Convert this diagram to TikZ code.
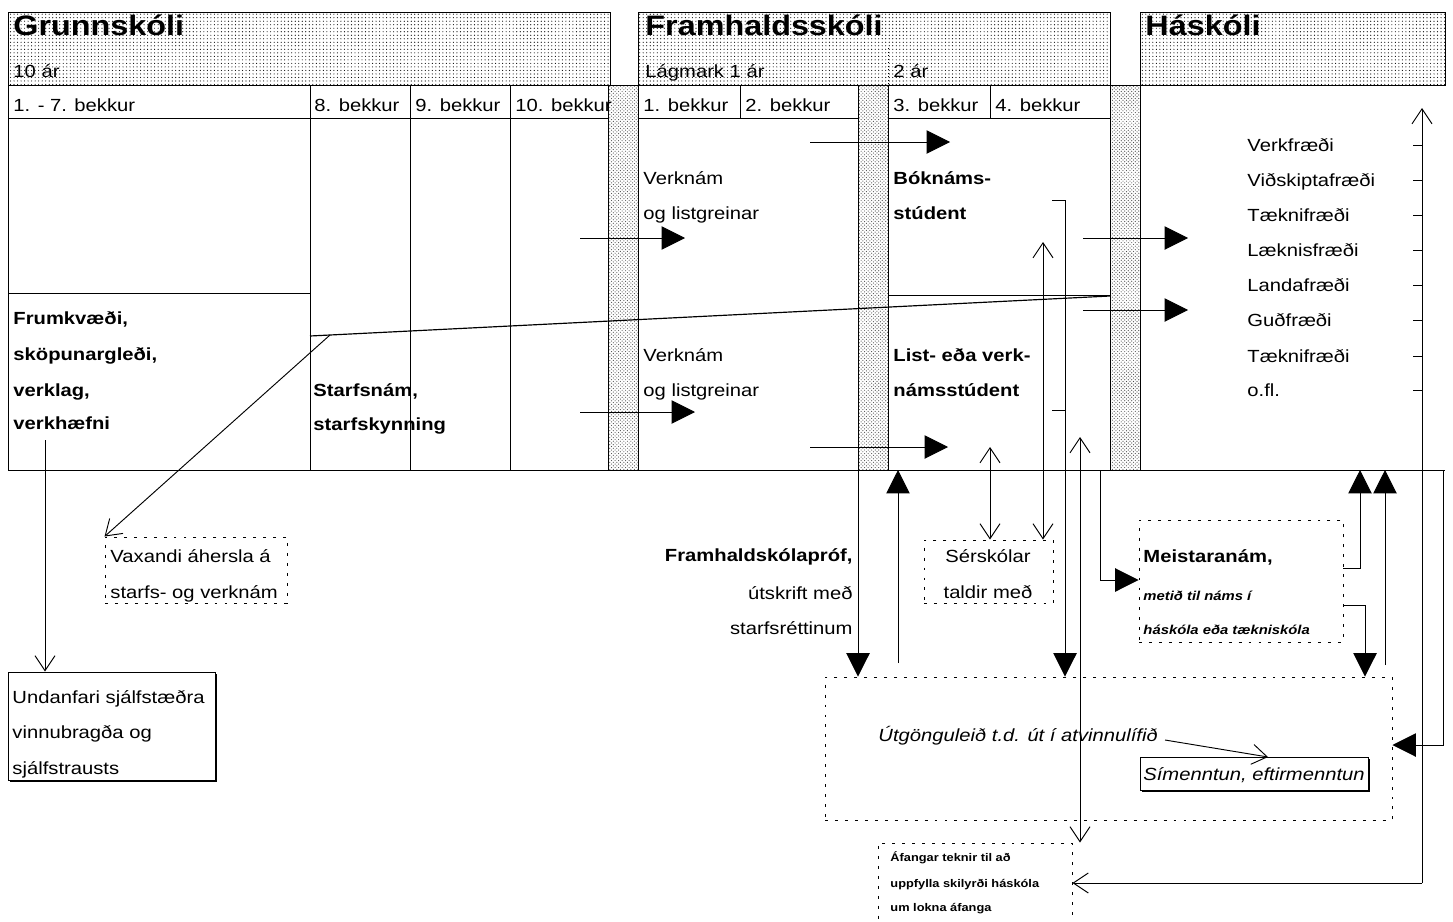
\documentclass[tikz,border=0pt]{standalone}
\usepackage{fontspec}
\setmainfont{Liberation Sans}[FakeStretch=1.15]
\usetikzlibrary{arrows.meta,patterns,shadows,fit}

\tikzset{
  hdr/.style={draw,pattern=dots,pattern color=black},
  strip/.style={draw,pattern=crosshatch dots,pattern color=black!70},
  txt/.style={anchor=base west,inner sep=0pt,font=\fontsize{15}{18}\selectfont},
  btxt/.style={txt,font=\fontsize{15}{18}\selectfont\bfseries},
  htxt/.style={txt,font=\fontsize{24}{28}\selectfont\bfseries},
  stxt/.style={txt,font=\fontsize{9.5}{11}\selectfont\bfseries},
  dotbox/.style={draw,dash pattern=on 2.5pt off 6pt,inner sep=0pt},
  shadbox/.style={draw,fill=white,inner sep=0pt,
    drop shadow={shadow xshift=2pt,shadow yshift=-2pt,fill=black,opacity=1}},
  fillarr/.style={-{Triangle[length=7mm,width=7mm]}},
  openarr/.style={-{Straight Barb[length=4.5mm,width=6mm]}},
  twoarr/.style={{Straight Barb[length=4.5mm,width=6mm]}-{Straight Barb[length=4.5mm,width=6mm]}},
}

\begin{document}
\begin{tikzpicture}[x=0.03cm,y=-0.03cm,line width=0.8pt]
  \useasboundingbox (0,0) rectangle (1453,921);
  \def\yhead{85}
  \def\yrow{118}
  \def\ybot{470}
  % header bands
  \draw[hdr] (8,12) rectangle (610,\yhead);
  \draw[hdr] (638,12) rectangle (1110,\yhead);
  \draw[hdr] (1140,12) rectangle (1445,\yhead);
  \draw[dash pattern=on 1pt off 2pt] (888,48) -- (888,\yhead);
  \node[htxt] (grunn) at (13,35) {Grunnskóli};
  \node[htxt] (framh) at (645,35) {Framhaldsskóli};
  \node[htxt] (hask) at (1145,35) {Háskóli};
  \node[txt] (ar10) at (13,77) {10 ár};
  \node[txt] (arlag) at (645,77) {Lágmark 1 ár};
  \node[txt] (ar2) at (893,77) {2 ár};
  % gray strips between the schools
  \foreach \x in {608,858,1110}
    \draw[strip] (\x,\yhead) rectangle ++(30,\ybot-\yhead);
  % tables
  \draw (8,\yhead) rectangle (608,\ybot);
  \draw (638,\yhead) rectangle (858,\ybot);
  \draw (888,\yhead) rectangle (1110,\ybot);
  \draw (1140,\yhead) -- (1140,\ybot) -- (1445,\ybot);
  \draw (8,\yrow) -- (608,\yrow);
  \draw (638,\yrow) -- (858,\yrow);
  \draw (888,\yrow) -- (1110,\yrow);
  \foreach \x in {310,410,510}
    \draw (\x,\yhead) -- (\x,\ybot);
  \foreach \x in {740,990}
    \draw (\x,\yhead) -- (\x,\yrow);
  \draw (8,293) -- (310,293);
  \draw (888,295) -- (1110,295);
  \draw[line width=1pt] (310,336) -- (1110,296);
  % grade row
  \foreach \x/\t [count=\i] in {13/{1. - 7. bekkur},314/{8. bekkur},415/{9. bekkur},
      515/{10. bekkur},643/{1. bekkur},745/{2. bekkur},893/{3. bekkur},995/{4. bekkur}}
    \node[txt] (bekk\i) at (\x,111) {\t};
  %
  \node[btxt] (frum1) at (13,324) {Frumkvæði,};
  \node[btxt] (frum2) at (13,360) {sköpunargleði,};
  \node[btxt] (frum3) at (13,396) {verklag,};
  \node[btxt] (frum4) at (13,429) {verkhæfni};
  \node[btxt] (starf1) at (313,396) {Starfsnám,};
  \node[btxt] (starf2) at (313,430) {starfskynning};
  \node[txt] (verk1) at (643,184) {Verknám};
  \node[txt] (verk2) at (643,219) {og listgreinar};
  \node[txt] (verk3) at (643,361) {Verknám};
  \node[txt] (verk4) at (643,396) {og listgreinar};
  \node[btxt] (bok1) at (893,184) {Bóknáms-};
  \node[btxt] (bok2) at (893,219) {stúdent};
  \node[btxt] (list1) at (893,361) {List- eða verk-};
  \node[btxt] (list2) at (893,396) {námsstúdent};
  \foreach \y/\t [count=\i] in {151/Verkfræði,186/Viðskiptafræði,221/Tæknifræði,
      256/Læknisfræði,291/Landafræði,326/Guðfræði,362/Tæknifræði,396/o.fl.}
  {
    \node[txt] (fag\i) at (1247,\y) {\t};
    \draw (1413,\y-6) -- (1422,\y-6);
  }
  % boxes below
  \node[dotbox,fit={(105,537)(287,603)}] (vax) {};
  \node[txt] (vax1) at (110,562) {Vaxandi áhersla á};
  \node[txt] (vax2) at (110,598) {starfs- og verknám};
  \node[shadbox,fit={(8,672)(215,780)}] (undan) {};
  \node[txt] (undan1) at (12,703) {Undanfari sjálfstæðra};
  \node[txt] (undan2) at (12,738) {vinnubragða og};
  \node[txt] (undan3) at (12,774) {sjálfstrausts};
  \node[btxt,anchor=base east] (prof1) at (853,561) {Framhaldskólapróf,};
  \node[txt,anchor=base east] (prof2) at (853,599) {útskrift með};
  \node[txt,anchor=base east] (prof3) at (853,634) {starfsréttinum};
  \node[dotbox,fit={(924,540)(1053,603)}] (ser) {};
  \node[txt,anchor=base] (ser1) at (988,562) {Sérskólar};
  \node[txt,anchor=base] (ser2) at (988,598) {taldir með};
  \node[dotbox,fit={(1139,520)(1343,642)}] (mei) {};
  \node[btxt] (mei1) at (1143,562) {Meistaranám,};
  \node[txt,font=\fontsize{11}{13}\selectfont\bfseries\itshape] (mei2) at (1143,600) {metið til náms í};
  \node[txt,font=\fontsize{11}{13}\selectfont\bfseries\itshape] (mei3) at (1143,634) {háskóla eða tækniskóla};
  \node[dotbox,fit={(825,677)(1392,820)}] (utg) {};
  \node[txt,font=\fontsize{15}{18}\selectfont\itshape] (utg1) at (878,741) {Útgönguleið t.d. út í atvinnulífið};
  \node[shadbox,fit={(1140,757)(1368,790)}] (sim) {};
  \node[txt,anchor=base,font=\fontsize{15}{18}\selectfont\itshape] (sim1) at (1254,780) {Símenntun, eftirmenntun};
  \node[dotbox,fit={(878,843)(1072,940)}] (afa) {};
  \node[stxt] (afa1) at (890,861) {Áfangar teknir til að};
  \node[stxt] (afa2) at (890,887) {uppfylla skilyrði háskóla};
  \node[stxt] (afa3) at (890,911) {um lokna áfanga};
  % arrows inside the tables
  \foreach \n/\xa/\xb/\y in {a/580/685/238,b/580/695/412,c/810/950/142,
      d/810/948/447,e/1083/1188/238,f/1083/1188/310}
  {
    \coordinate (s\n) at (\xa,\y);
    \coordinate (e\n) at (\xb,\y);
    \draw[fillarr] (s\n) -- (e\n);
  }
  % connectors
  \coordinate (kink) at (330,335);
  \draw[openarr] (kink) -- (vax.north west);
  \coordinate (frum) at (45,440);
  \draw[openarr] (frum) -- (frum |- undan.north);
  \coordinate (fhout) at (858,\ybot);
  \draw[fillarr] (fhout) -- (fhout |- utg.north);
  \coordinate (upa) at (898,663);
  \coordinate (upb) at (898,\ybot);
  \draw[fillarr] (upa) -- (upb);
  \coordinate (s1) at (990,447);
  \draw[twoarr] (s1) -- (s1 |- ser.north);
  \coordinate (s2) at (1043,242);
  \draw[twoarr] (s2) -- (s2 |- ser.north);
  \coordinate (br1) at (1052,200);
  \coordinate (br2) at (1065,200);
  \coordinate (br3) at (1052,410);
  \coordinate (br4) at (1065,410);
  \draw (br1) -- (br2);
  \draw (br3) -- (br4);
  \draw[fillarr] (br2) -- (br2 |- utg.north);
  \coordinate (lng) at (1080,437);
  \draw[twoarr] (lng) -- (lng |- afa.north);
  \coordinate (m0) at (1100,\ybot);
  \coordinate (m1) at (1100,580);
  \draw[fillarr] (m0) -- (m1) -- (m1 -| mei.west);
  \coordinate (mu1) at (1360,568);
  \coordinate (mu2) at (1360,\ybot);
  \draw[fillarr] (mu1 -| mei.east) -- (mu1) -- (mu2);
  \coordinate (md1) at (1365,605);
  \draw[fillarr] (md1 -| mei.east) -- (md1) -- (md1 |- utg.north);
  \coordinate (hu1) at (1385,665);
  \coordinate (hu2) at (1385,\ybot);
  \draw[fillarr] (hu1) -- (hu2);
  \coordinate (r0) at (1443,\ybot);
  \coordinate (r1) at (1443,745);
  \draw[fillarr] (r0) -- (r1) -- (r1 -| utg.east);
  \coordinate (ax0) at (1422,108);
  \coordinate (ax1) at (1422,883);
  \draw[openarr] (ax1) -- (ax0);
  \draw[openarr] (ax1) -- (ax1 -| afa.east);
  \coordinate (simarr) at (1165,740);
  \draw[openarr] (simarr) -- (1268,757);
\end{tikzpicture}
\end{document}
